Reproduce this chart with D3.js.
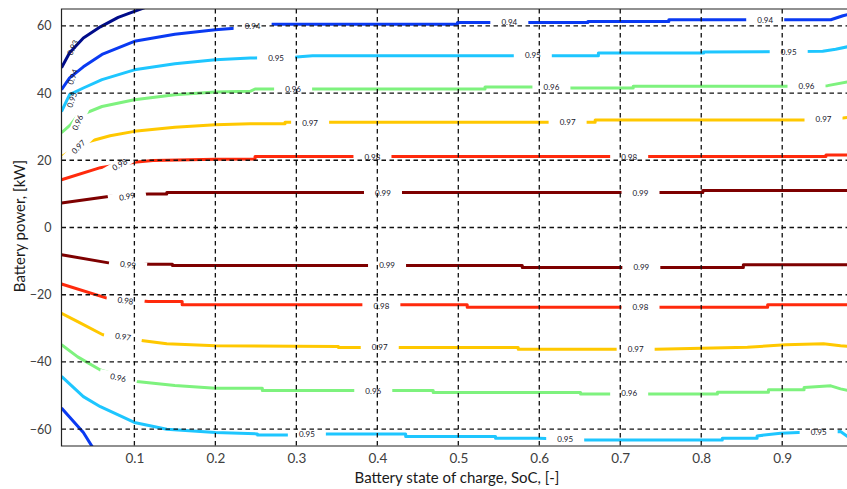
<!DOCTYPE html>
<html>
<head>
<meta charset="utf-8">
<script src="https://cdn.jsdelivr.net/npm/d3@7"></script>
<style>
body { margin: 0; background: #fff; }
</style>
</head>
<body>
<script>
// efficiency map of the battery : contour levels
var levels = [0.93, 0.94, 0.95, 0.96, 0.97, 0.98, 0.99]
var levelColors = ["#000c8a", "#0a3af2", "#1ec6ff", "#7ef27e", "#ffc800", "#ff2a0c", "#7e0000"]
var xTicks = [0.1, 0.2, 0.3, 0.4, 0.5, 0.6, 0.7, 0.8, 0.9]
var yTicks = [-60, -40, -20, 0, 20, 40, 60]

// contour points, [SoC, kW]
var c93Up = [[0.01,47.5],[0.02,52],[0.037,56.4],[0.058,59.7],[0.08,62.5],[0.1,64.3],[0.115,65.6]]
var c94Up = [[0.01,41],[0.02,44.5],[0.037,47.8],[0.06,51.5],[0.1,55.4],[0.15,57.5],[0.2,58.8],[0.24,59.6],[0.27,60.5],[0.499,60.5],[0.499,61],[0.66,61],[0.66,61.3],[0.76,61.3],[0.76,61.8],[0.96,61.8],[0.975,63],[0.985,63.6]]
var c94Dn = [[0.01,-53.7],[0.037,-61],[0.05,-66]]
var c95Up = [[0.01,34.5],[0.02,39.5],[0.037,41.5],[0.06,44],[0.1,46.9],[0.15,48.7],[0.2,49.9],[0.243,50.4],[0.3,50.7],[0.32,51.1],[0.673,51.1],[0.673,51.9],[0.803,51.9],[0.803,52.2],[0.95,52.4],[0.966,53],[0.985,54]]
var c95Dn = [[0.01,-44.3],[0.037,-50.3],[0.058,-53.3],[0.1,-58],[0.14,-60],[0.2,-61],[0.252,-61.4],[0.252,-61.7],[0.3,-61.7],[0.338,-61.4],[0.435,-61.4],[0.435,-62.2],[0.546,-62.2],[0.546,-62.7],[0.6,-62.7],[0.657,-63.2],[0.826,-63.2],[0.826,-62.7],[0.869,-62.7],[0.869,-62],[0.898,-61.2],[0.92,-61],[0.972,-60.7],[0.985,-62.9]]
var c96Up = [[0.01,28.2],[0.021,30.5],[0.029,33],[0.06,36],[0.1,38],[0.15,39.5],[0.2,40.3],[0.243,40.5],[0.249,41.2],[0.533,41.2],[0.533,41.8],[0.59,41.8],[0.64,41.5],[0.716,41.5],[0.716,42],[0.904,42],[0.956,42.2],[0.985,43.5]]
var c96Dn = [[0.01,-34.9],[0.03,-38.5],[0.058,-42.4],[0.103,-45.8],[0.15,-47],[0.2,-47.8],[0.258,-47.8],[0.258,-48.5],[0.469,-48.5],[0.469,-49.1],[0.651,-49.1],[0.651,-49.5],[0.82,-49.5],[0.82,-49],[0.883,-49],[0.883,-48.3],[0.927,-48.3],[0.927,-47.6],[0.96,-47.1],[0.972,-48],[0.985,-48.7]]
var c97Up = [[0.01,21.1],[0.02,22.5],[0.044,25.6],[0.07,27.3],[0.1,28.6],[0.15,29.8],[0.2,30.6],[0.243,30.9],[0.286,30.9],[0.286,31.3],[0.669,31.3],[0.669,32],[0.93,32],[0.975,32.6],[0.985,32.8]]
var c97Dn = [[0.01,-25.5],[0.03,-28],[0.061,-31.9],[0.111,-33.7],[0.14,-34.6],[0.2,-35.2],[0.352,-35.4],[0.352,-35.7],[0.574,-35.7],[0.574,-36.2],[0.744,-36.2],[0.857,-35.6],[0.904,-34.9],[0.951,-34.6],[0.972,-35.2],[0.985,-35.4]]
var c98Up = [[0.01,14.2],[0.058,17.8],[0.08,18.7],[0.103,19.5],[0.123,19.9],[0.2,20.3],[0.249,20.4],[0.249,21.1],[0.954,21.1],[0.954,21.6],[0.985,21.6]]
var c98Dn = [[0.01,-16.8],[0.066,-21],[0.117,-22],[0.159,-22],[0.159,-23],[0.511,-23],[0.511,-23.7],[0.882,-23.7],[0.882,-23],[0.985,-23]]
var c99Up = [[0.01,7.3],[0.068,9.2],[0.117,10],[0.14,10],[0.14,10.4],[0.802,10.4],[0.802,11],[0.985,11]]
var c99Dn = [[0.01,-8.1],[0.07,-10.6],[0.12,-10.9],[0.147,-10.9],[0.147,-11.3],[0.579,-11.3],[0.579,-11.9],[0.852,-11.9],[0.852,-11.1],[0.985,-11.1]]

var contours = [
  {level: 0.93, pts: c93Up},
  {level: 0.94, pts: c94Up}, {level: 0.94, pts: c94Dn},
  {level: 0.95, pts: c95Up}, {level: 0.95, pts: c95Dn},
  {level: 0.96, pts: c96Up}, {level: 0.96, pts: c96Dn},
  {level: 0.97, pts: c97Up}, {level: 0.97, pts: c97Dn},
  {level: 0.98, pts: c98Up}, {level: 0.98, pts: c98Dn},
  {level: 0.99, pts: c99Up}, {level: 0.99, pts: c99Dn}
]

// inline labels : level, SoC, kW, angle, cuts the line
var labels = [
  [0.93, 0.024, 53.5, -65, false], [0.94, 0.024, 44.8, -70, false], [0.95, 0.023, 38, -70, false],
  [0.96, 0.030, 31.2, -65, true], [0.97, 0.031, 24, -45, true], [0.98, 0.082, 18.7, -30, true], [0.99, 0.091, 9.2, -10, true],
  [0.99, 0.092, -11.1, 8, true], [0.98, 0.089, -21.8, 8, true], [0.97, 0.086, -32.5, 10, true], [0.96, 0.080, -44.7, 12, true],
  [0.94, 0.246, 59.8, 0, true], [0.94, 0.563, 61, 0, true], [0.94, 0.879, 61.6, 0, true],
  [0.95, 0.275, 50.5, 0, true], [0.95, 0.592, 51.3, 0, true], [0.95, 0.908, 52.2, 0, true],
  [0.96, 0.296, 41.0, 0, true], [0.96, 0.615, 41.6, 0, true], [0.96, 0.930, 42.1, 0, true],
  [0.97, 0.317, 31.0, 0, true], [0.97, 0.635, 31.2, 0, true], [0.97, 0.951, 32.2, 0, true],
  [0.98, 0.394, 21.0, 0, true], [0.98, 0.711, 21.0, 0, true],
  [0.99, 0.407, 10.3, 0, true], [0.99, 0.725, 10.3, 0, true],
  [0.99, 0.412, -11.3, 0, true], [0.99, 0.726, -11.8, 0, true],
  [0.98, 0.405, -23.3, 0, true], [0.98, 0.725, -23.7, 0, true],
  [0.97, 0.403, -35.6, 0, true], [0.97, 0.719, -36.1, 0, true],
  [0.96, 0.395, -48.6, 0, true], [0.96, 0.711, -49.4, 0, true],
  [0.95, 0.313, -61.6, 0, true], [0.95, 0.632, -63.0, 0, true], [0.95, 0.945, -61.0, 0, true]
]

var W = 847, H = 489
var pLeft = 61.5, pTop = 9, pRight = 847, pBottom = 446

var svg = d3.select("body").append("svg")
    .attr("width", W)
    .attr("height", H)

var x = d3.scaleLinear().domain([0.01, 0.98]).range([pLeft, pRight])
var y = d3.scaleLinear().domain([-65, 65]).range([pBottom, pTop])
var color = d3.scaleOrdinal().domain(levels).range(levelColors)

var defs = svg.append("defs")
defs.append("clipPath").attr("id", "plotclip")
  .append("rect")
  .attr("x", pLeft).attr("y", pTop)
  .attr("width", pRight - pLeft).attr("height", pBottom - pTop)

// mask that opens a gap in the lines under each label
var mask = defs.append("mask").attr("id", "gaps")
  .attr("maskUnits", "userSpaceOnUse")
  .attr("x", 0).attr("y", 0).attr("width", W).attr("height", H)
mask.append("rect").attr("width", W).attr("height", H).attr("fill", "white")
mask.selectAll(".gap")
  .data(labels.filter(d => d[4]))
  .enter()
  .append("rect")
  .attr("class", "gap")
  .attr("x", -19).attr("y", -5)
  .attr("width", 38).attr("height", 10)
  .attr("fill", "black")
  .attr("transform", d => `translate(${x(d[1])},${y(d[2])}) rotate(${d[3]})`)

//contour lines
var line = d3.line().x(d => x(d[0])).y(d => y(d[1]))
var g = svg.append("g").attr("clip-path", "url(#plotclip)")
var gl = g.append("g").attr("mask", "url(#gaps)")
gl.selectAll("path")
  .data(contours)
  .enter()
  .append("path")
  .attr("d", d => line(d.pts))
  .style("fill", "none")
  .style("stroke", d => color(d.level))
  .style("stroke-width", 3)
  .style("stroke-linejoin", "round")

//grid, dashed, on top of the lines
var grid = svg.append("g").attr("class", "grid")
grid.selectAll(".vx")
  .data(xTicks)
  .enter()
  .append("line")
  .attr("x1", d => x(d)).attr("x2", d => x(d))
  .attr("y1", pTop).attr("y2", pBottom)
grid.selectAll(".hy")
  .data(yTicks)
  .enter()
  .append("line")
  .attr("x1", pLeft).attr("x2", pRight)
  .attr("y1", d => y(d)).attr("y2", d => y(d))
grid.selectAll("line")
  .style("stroke", "#111")
  .style("stroke-width", 1.3)
  .style("stroke-dasharray", "4.5,3.5")

//labels of the levels
g.selectAll(".clabel")
  .data(labels)
  .enter()
  .append("text")
  .attr("class", "clabel")
  .attr("transform", d => `translate(${x(d[1])},${y(d[2])}) rotate(${d[3]})`)
  .attr("text-anchor", "middle")
  .attr("dy", "0.35em")
  .attr("font-family", "Lato, sans-serif")
  .attr("font-size", "8px")
  .attr("fill", "#15152a")
  .text(d => d3.format(".2f")(d[0]))

//frame
svg.append("path")
  .attr("d", `M${pRight + 2},${pTop}H${pLeft}V${pBottom}H${pRight + 2}`)
  .style("fill", "none")
  .style("stroke", "#222")
  .style("stroke-width", 1.2)

//axes
var xAxis = svg.append("g")
  .attr("transform", `translate(0,${pBottom})`)
  .call(d3.axisBottom(x).tickValues(xTicks).tickSize(0).tickPadding(7).tickFormat(d3.format(".1f")))
var yAxis = svg.append("g")
  .attr("transform", `translate(${pLeft},0)`)
  .call(d3.axisLeft(y).tickValues(yTicks).tickSize(0).tickPadding(10))
svg.selectAll(".domain").remove()
xAxis.selectAll("text")
  .attr("font-family", "Lato, sans-serif")
  .attr("font-size", "13.5px")
  .attr("fill", "#404040")
yAxis.selectAll("text")
  .attr("font-family", "Lato, sans-serif")
  .attr("font-size", "12.5px")
  .attr("fill", "#404040")

svg.append("text")
  .attr("x", 457)
  .attr("y", 483)
  .attr("text-anchor", "middle")
  .attr("font-family", "Lato, sans-serif")
  .attr("font-size", "15px")
  .attr("fill", "#1a1a1a")
  .text("Battery state of charge, SoC, [-]")

svg.append("text")
  .attr("transform", "translate(25,226) rotate(-90)")
  .attr("text-anchor", "middle")
  .attr("font-family", "Lato, sans-serif")
  .attr("font-size", "15px")
  .attr("fill", "#1a1a1a")
  .text("Battery power, [kW]")
</script>
</body>
</html>
